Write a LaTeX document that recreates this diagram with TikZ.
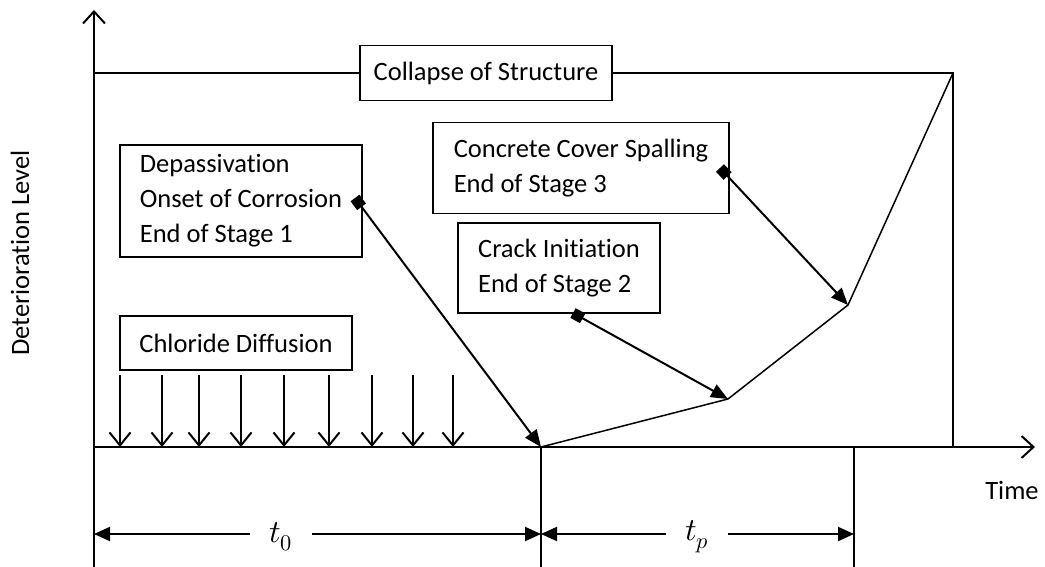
\documentclass[tikz,border=0pt]{standalone}
\usepackage{fontspec}
\usepackage{unicode-math}
\setmainfont{Carlito}[Ligatures=NoCommon]
\setmathfont{Latin Modern Math}
\usetikzlibrary{arrows.meta}

\begin{document}
\begin{tikzpicture}[x=1pt, y=-1pt,
    font=\fontsize{26.5}{35}\selectfont,
    axis/.style={line width=2pt, -{Straight Barb[length=12pt, width=22pt]}},
    down/.style={line width=2pt, -{Straight Barb[length=13pt, width=21pt]}},
    pointer/.style={line width=2pt, {Square[length=11pt, width=11pt]}-{Triangle[length=17pt, width=14pt]}},
    dimarrow/.style={line width=2pt, -{Triangle[length=16pt, width=14pt]}},
    thinline/.style={line width=1.5pt},
    box/.style={draw, line width=1.2pt, inner sep=0pt, align=left, fill=white},
    span/.style={minimum width=62pt, inner sep=0pt, font=\fontsize{32}{36}\selectfont}]
  \useasboundingbox (0,0) rectangle (1045,567);

  % axes
  \coordinate (o) at (94,447);
  \coordinate (ytop) at (94,10);
  \coordinate (ybot) at (94,567);
  \coordinate (xend) at (1035,447);
  \draw[axis] (ybot) -- (ytop);
  \draw[axis] (o) -- (xend);
  \node (ylab) [rotate=90] at (20,253) {Deterioration Level};
  \node (xlab) at (1012,490) {Time};

  % deterioration curve
  \coordinate (p0) at (541,447);
  \coordinate (p1) at (728,399);
  \coordinate (p2) at (848,305);
  \coordinate (p3) at (953,73);
  \draw[thinline] (p0) -- (p1) -- (p2) -- (p3);

  % collapse level
  \node[box, minimum width=252pt, minimum height=55pt] (collapse) at (486,73) {Collapse of Structure};
  \draw[line width=2pt] (94,73) -- (collapse.west);
  \draw[line width=2pt] (collapse.east) -- (p3) -- (p3 |- o);

  % stage boxes
  \node[box, minimum width=242pt, minimum height=112pt] (depass) at (241,201)
    {Depassivation\\Onset of Corrosion\\End of Stage 1};
  \node[box, minimum width=296pt, minimum height=91pt] (spall) at (581,168)
    {Concrete Cover Spalling\\End of Stage 3};
  \node[box, minimum width=202pt, minimum height=90pt] (crack) at (559,268)
    {Crack Initiation\\End of Stage 2};
  \node[box, minimum width=232pt, minimum height=54pt] (chloride) at (236,343)
    {Chloride Diffusion};

  % pointers
  \coordinate (m1) at (355,198);
  \coordinate (m2) at (720,168);
  \coordinate (m3) at (573,313);
  \draw[pointer] (m1) -- (p0);
  \draw[pointer] (m2) -- (p2);
  \draw[pointer] (m3) -- (p1);

  % chloride arrows
  \foreach \x in {120,162,199,241,284,329,372,413,453}
    \draw[down] (\x,375) -- (\x,447);

  % time spans
  \coordinate (q0) at (541,567);
  \coordinate (r0) at (854,447);
  \coordinate (r1) at (854,567);
  \draw[thinline] (p0) -- (q0);
  \draw[thinline] (r0) -- (r1);
  \node[span] (t0) at (281,537) {$t_0$};
  \node[span] (tp) at (697,537) {$t_p$};
  \draw[dimarrow] (t0.west |- 0,534) -- (94,534);
  \draw[dimarrow] (t0.east |- 0,534) -- (541,534);
  \draw[dimarrow] (tp.west |- 0,534) -- (541,534);
  \draw[dimarrow] (tp.east |- 0,534) -- (854,534);
\end{tikzpicture}
\end{document}
